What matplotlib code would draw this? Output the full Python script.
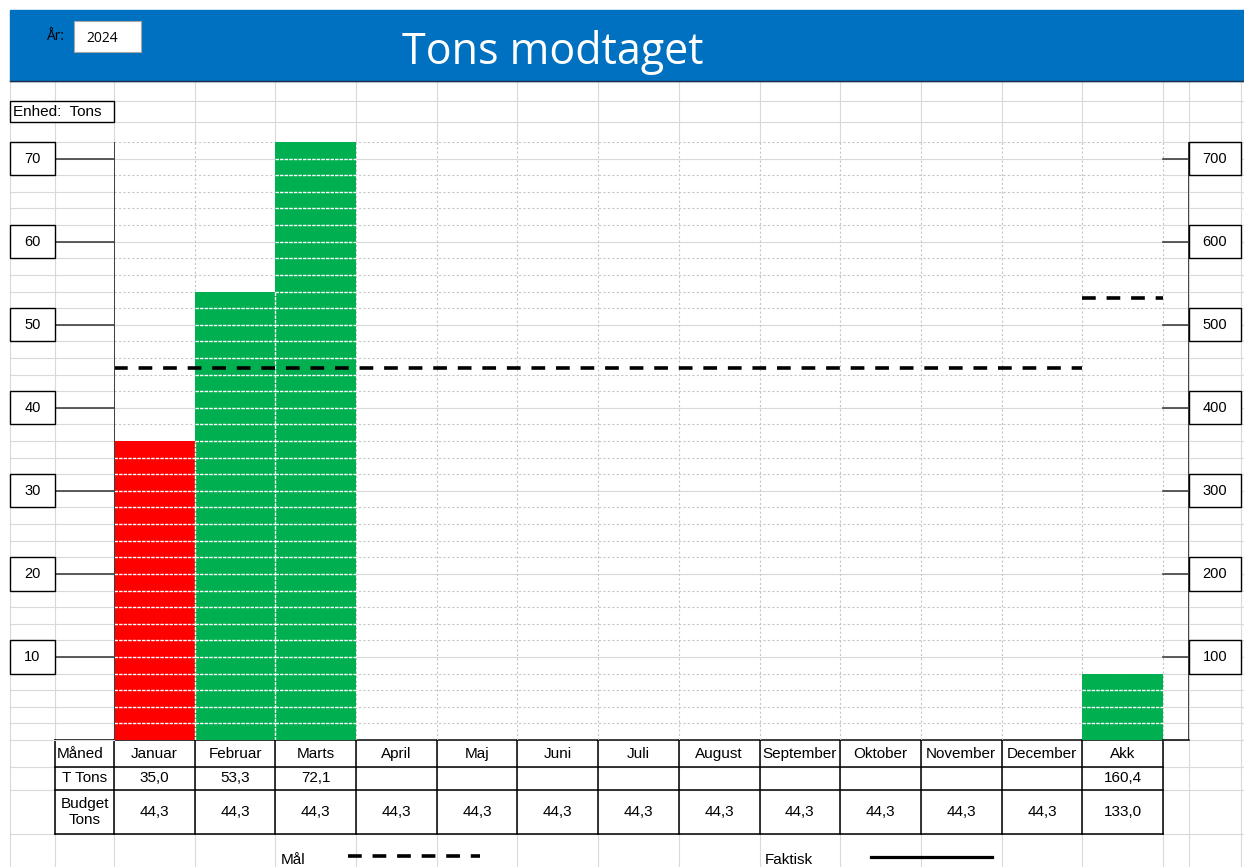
import matplotlib.pyplot as plt
from matplotlib.patches import Rectangle
from matplotlib.transforms import blended_transform_factory

# data
maaneder = ['Januar', 'Februar', 'Marts', 'April', 'Maj', 'Juni', 'Juli',
            'August', 'September', 'Oktober', 'November', 'December', 'Akk']
t_tons = [35.0, 53.3, 72.1, None, None, None, None, None, None, None, None, None, 160.4]
budget_tons = [44.3, 44.3, 44.3, 44.3, 44.3, 44.3, 44.3, 44.3, 44.3, 44.3, 44.3, 44.3, 133.0]
bar_hoejde = [36, 54, 72, 0, 0, 0, 0, 0, 0, 0, 0, 0, 8]   # som tegnet i diagrammet (venstre skala)
bar_farve = ['#FF0000', '#00B050', '#00B050', '#00B050', '#00B050', '#00B050', '#00B050',
             '#00B050', '#00B050', '#00B050', '#00B050', '#00B050', '#00B050']
maal_maaned = 44.8
maal_akk = 53.2
venstre_ticks = [10, 20, 30, 40, 50, 60, 70]
hoejre_ticks = [100, 200, 300, 400, 500, 600, 700]
aar = '2024'

W, H = 1244, 867
x0, x_akk_slut, x_hoejre = 114, 1163, 1189
y_top, y_bund = 142, 740
cw = (x_akk_slut - x0) / 13
kolonner = [x0 + i * cw for i in range(14)]

ARIAL = 'Liberation Sans'
GRID = '#D9D9D9'
DOT = '#C6C6C6'
AKSE = '#404040'

fig = plt.figure(figsize=(W / 100, H / 100), dpi=100)
bg = fig.add_axes([0, 0, 1, 1])
bg.set_xlim(0, W)
bg.set_ylim(H, 0)
bg.axis('off')

ax = fig.add_axes([x0 / W, (H - y_bund) / H, (x_hoejre - x0) / W, (y_bund - y_top) / H])
ax.set_xlim(0, (x_hoejre - x0) / cw)
ax.set_ylim(0, 72)
ax.axis('off')
ax.patch.set_alpha(0)
blend = blended_transform_factory(bg.transData, ax.transData)

# regneark-gitter
for x in [10, 55, x0, x_hoejre, 1241]:
    bg.plot([x, x], [81, H], color=GRID, lw=0.8, zorder=0)
for x in kolonner[1:]:
    bg.plot([x, x], [81, y_top], color=GRID, lw=0.8, zorder=0)
    bg.plot([x, x], [y_bund, H], color=GRID, lw=0.8, zorder=0)
for y in [101, 122, 767, 790, 834]:
    bg.plot([10, W], [y, y], color=GRID, lw=0.8, zorder=0)
for v in range(0, 73, 2):
    ax.plot([10, x0], [v, v], color=GRID, lw=0.8, transform=blend, clip_on=False, zorder=0)
    ax.plot([x_akk_slut, W], [v, v], color=GRID, lw=0.8, transform=blend, clip_on=False, zorder=0)
    if v % 10 == 0:
        ax.hlines(v, 0, 13, color=GRID, lw=0.8, zorder=0)
    else:
        ax.hlines(v, 0, 13, color=DOT, lw=0.8, ls=(0, (2, 2)), zorder=0)
ax.vlines(range(1, 14), 0, 72, color=DOT, lw=0.8, ls=(0, (2, 2)), zorder=0)

# overskrift
bg.add_patch(Rectangle((10, 10), W - 10, 71, color='#0070C0', zorder=1))
bg.plot([10, W], [81, 81], color='#1F2F45', lw=1, zorder=2)
bg.text(553, 64, 'Tons modtaget', color='white', fontsize=31, family='Open Sans',
        ha='center', va='baseline', zorder=3)
bg.text(47, 37, 'År:', fontsize=10, family='Open Sans', ha='left', va='center', zorder=3)
bg.add_patch(Rectangle((74, 21), 67, 31, facecolor='white', edgecolor='#A6A6A6', lw=0.8, zorder=2))
bg.text(86, 38, aar, fontsize=10, family='Open Sans', ha='left', va='center', zorder=3)

bg.add_patch(Rectangle((10, 101), 104, 21, facecolor='white', edgecolor='black', lw=1, zorder=2))
bg.text(13, 112, 'Enhed:  Tons', fontsize=11, family=ARIAL, ha='left', va='center', zorder=3)

# søjler
xs = list(range(len(maaneder)))
ax.bar(xs, bar_hoejde, width=1, align='edge', color=bar_farve, zorder=2)
for i, h in enumerate(bar_hoejde):
    for v in range(2, h, 2):
        ax.hlines(v, i, i + 1, color='white', lw=1.0, ls=(0, (2.5, 0.8)), zorder=3)
    if i > 0 and h > 0 and bar_hoejde[i - 1] > 0:
        ax.vlines(i, 0, min(h, bar_hoejde[i - 1]), color='white', lw=1.0,
                  ls=(0, (2.5, 0.8)), zorder=3)

# mål-linjer
ax.hlines(maal_maaned, 0, 12, color='black', lw=2.6, ls=(0, (3.8, 3.0)), zorder=4)
ax.hlines(maal_akk, 12, 13, color='black', lw=2.6, ls=(0, (3.8, 3.0)), zorder=4)

# akser
ax.vlines(0, 0, 72, color=AKSE, lw=1.4, zorder=4)
ax.vlines((x_hoejre - x0) / cw, 0, 72, color=AKSE, lw=1.4, zorder=4)
ax.plot([x_akk_slut, x_hoejre], [0, 0], color='black', lw=1.1, transform=blend, clip_on=False, zorder=4)
for v in venstre_ticks:
    ax.plot([55, x0], [v, v], color=AKSE, lw=1.2, transform=blend, clip_on=False, zorder=4)
    ax.add_patch(Rectangle((10, v - 2), 45, 4, transform=blend, facecolor='white',
                           edgecolor='black', lw=1, clip_on=False, zorder=4))
    ax.text(32.5, v, str(v), transform=blend, fontsize=10.5, family=ARIAL,
            ha='center', va='center', zorder=5)
for v in hoejre_ticks:
    yv = v / 10
    ax.plot([x_akk_slut, x_hoejre], [yv, yv], color=AKSE, lw=1.2, transform=blend, clip_on=False, zorder=4)
    ax.add_patch(Rectangle((x_hoejre, yv - 2), 52, 4, transform=blend, facecolor='white',
                           edgecolor='black', lw=1, clip_on=False, zorder=4))
    ax.text(x_hoejre + 26, yv, str(v), transform=blend, fontsize=10.5, family=ARIAL,
            ha='center', va='center', zorder=5)

# tabel
rows = [740, 767, 790, 834]
for y in rows:
    bg.plot([55, x_akk_slut], [y, y], color='black', lw=1.1, zorder=4)
for x in [55] + kolonner:
    bg.plot([x, x], [740, 834], color='black', lw=1.1, zorder=4)

def fmt(v):
    return '' if v is None else f'{v:.1f}'.replace('.', ',')

bg.text(57, 754, 'Måned', fontsize=11, family=ARIAL, ha='left', va='center', zorder=5)
bg.text(84.5, 778.5, 'T Tons', fontsize=11, family=ARIAL, ha='center', va='center', zorder=5)
bg.text(84.5, 812, 'Budget\nTons', fontsize=11, family=ARIAL, ha='center', va='center',
        linespacing=1.15, zorder=5)
for i, m in enumerate(maaneder):
    cx = kolonner[i] + cw / 2
    bg.text(cx, 754, m, fontsize=11, family=ARIAL, ha='center', va='center', zorder=5)
    bg.text(cx, 778.5, fmt(t_tons[i]), fontsize=11, family=ARIAL, ha='center', va='center', zorder=5)
    bg.text(cx, 812, fmt(budget_tons[i]), fontsize=11, family=ARIAL, ha='center', va='center', zorder=5)

# forklaring
bg.text(281, 853, 'Mål', fontsize=11, family=ARIAL, ha='left', va='top', zorder=5)
bg.plot([348, 480], [856, 856], color='black', lw=2.6, ls=(0, (3.8, 3.0)), zorder=5)
bg.text(765, 853, 'Faktisk', fontsize=11, family=ARIAL, ha='left', va='top', zorder=5)
bg.plot([871, 992], [857, 857], color='black', lw=2.3, zorder=5)

fig.savefig('out.png', dpi=100)
